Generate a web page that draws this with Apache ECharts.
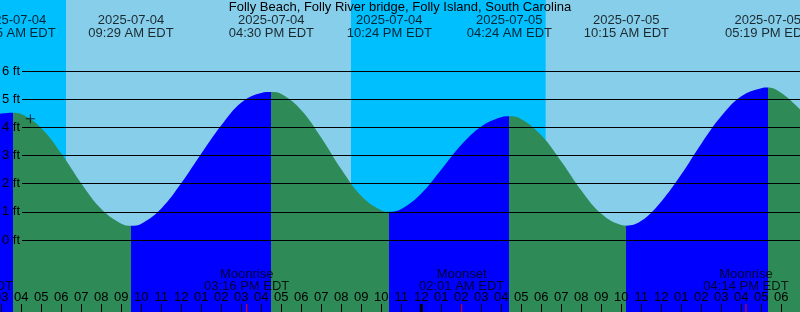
<!DOCTYPE html>
<html><head><meta charset="utf-8">
<script src="https://cdn.jsdelivr.net/npm/echarts@6/dist/echarts.min.js"></script>
<style>html,body{margin:0;padding:0;background:#87CEEB}#c{width:800px;height:312px}</style>
</head><body><div id="c"></div>
<script>
// ---- data (hours counted from 2025-07-04 00:00 EDT) ----
const chartTitle = 'Folly Beach, Folly River bridge, Folly Island, South Carolina';
const tideHours = [2.933, 3, 3.583, 4, 5, 6, 7, 8, 9, 9.483, 10, 11, 12, 13, 14, 15, 16, 16.5, 17, 18, 19, 20, 21, 22, 22.4,
  23, 24, 25, 26, 27, 28, 28.4, 29, 30, 31, 32, 33, 34, 34.25, 35, 36, 37, 38, 39, 40, 41, 41.317, 42, 42.933];
const tideFeet = [4.48, 4.49, 4.52, 4.47, 3.97, 3.07, 2.01, 1.10, 0.58, 0.51, 0.58, 1.12, 2.02, 3.07, 4.07, 4.88, 5.22, 5.25, 5.18, 4.61, 3.63, 2.51, 1.56, 1.05, 1.00,
  1.10, 1.65, 2.50, 3.38, 4.03, 4.36, 4.39, 4.29, 3.72, 2.79, 1.76, 0.93, 0.53, 0.51, 0.68, 1.37, 2.33, 3.42, 4.40, 5.10, 5.39, 5.41, 5.22, 4.64];
const eventHours = [3.583, 9.483, 16.5, 22.4, 28.4, 34.25, 41.317];
const eventType = ['H', 'L', 'H', 'L', 'H', 'L', 'H'];
const eventDate = ['2025-07-04', '2025-07-04', '2025-07-04', '2025-07-04', '2025-07-05', '2025-07-05', '2025-07-05'];
const eventTime = ['03:35 AM EDT', '09:29 AM EDT', '04:30 PM EDT', '10:24 PM EDT', '04:24 AM EDT', '10:15 AM EDT', '05:19 PM EDT'];
const nightStart = [-3.517, 20.483];
const nightEnd = [6.233, 30.217];
const moonHours = [1.45, 15.267, 26.017, 40.233];
const moonEvent = ['Moonset', 'Moonrise', 'Moonset', 'Moonrise'];
const moonTime = ['01:27 AM EDT', '03:16 PM EDT', '02:01 AM EDT', '04:14 PM EDT'];
const midnightHours = [24];
const nowHour = 4.45, nowFeet = 4.30;
const yTickLabels = [0, 1, 2, 3, 4, 5, 6];

// ---- axis extents ----
const xMin = 2.9333, xMax = 42.9333;
const yMin = -2.556, yMax = 8.52;
const FONT = 'Liberation Sans';
const RISE = '#0000FF', FALL = '#2E8B57';

const pieces = [];
pieces.push({ lt: eventHours[0], color: eventType[0] === 'H' ? RISE : FALL });
for (let i = 0; i < eventHours.length; i++) {
  const p = { gte: eventHours[i], color: eventType[i] === 'H' ? FALL : RISE };
  if (i < eventHours.length - 1) p.lt = eventHours[i + 1];
  pieces.push(p);
}

function tickSeries(hours, color, width) {
  return {
    type: 'custom', xAxisIndex: 0, yAxisIndex: 0, z: 6, clip: false,
    data: hours.map(h => [h]),
    renderItem: function (params, api) {
      const p = api.coord([api.value(0), yMin]);
      return { type: 'line', shape: { x1: p[0], y1: p[1], x2: p[0], y2: p[1] - 8 },
        style: { stroke: color, lineWidth: width } };
    }
  };
}

const chart = echarts.init(document.getElementById('c'));
chart.setOption({
  animation: false,
  backgroundColor: '#87CEEB',
  title: { text: chartTitle, left: 'center', top: 0, padding: 0,
    textStyle: { fontFamily: FONT, fontSize: 13, fontWeight: 'normal', color: '#000', lineHeight: 14 } },
  grid: [
    { left: 0, right: 0, top: 0, bottom: 0, show: true, backgroundColor: '#87CEEB', borderWidth: 0,
      containLabel: false, outerBoundsMode: 'none' },
    { left: 22, right: 0, top: 71, bottom: 72, show: false, containLabel: false, outerBoundsMode: 'none' }
  ],
  xAxis: [
    { type: 'value', gridIndex: 0, min: xMin, max: xMax, splitNumber: 40, minInterval: 1, maxInterval: 1,
      z: 5,
      axisLine: { show: false, onZero: false },
      axisTick: { show: true, inside: true, length: 8, lineStyle: { color: '#000', width: 1 } },
      axisLabel: { show: true, inside: true, margin: 8, interval: 0, showMinLabel: false, showMaxLabel: false,
        fontFamily: FONT, fontSize: 13, color: '#000',
        formatter: function (v) { const h = Math.round(v) % 12 || 12; return (h < 10 ? '0' : '') + h; } },
      splitLine: { show: false } },
    { type: 'value', gridIndex: 1, min: xMin, max: xMax, show: false, axisLine: { onZero: false } }
  ],
  yAxis: [
    { type: 'value', gridIndex: 0, min: yMin, max: yMax, show: false, splitLine: { show: false } },
    { type: 'value', gridIndex: 1, min: yTickLabels[0], max: yTickLabels[yTickLabels.length - 1], interval: 1, z: 10,
      axisLine: { show: false }, axisTick: { show: false },
      splitLine: { show: true, lineStyle: { color: '#000', width: 1 } },
      axisLabel: { show: true, margin: 20, align: 'left', fontFamily: FONT, fontSize: 13, color: '#000',
        formatter: '{value} ft' } }
  ],
  visualMap: { type: 'piecewise', show: false, dimension: 0, seriesIndex: 1, pieces: pieces },
  series: [
    { type: 'line', xAxisIndex: 0, yAxisIndex: 0, z: 1, data: [], silent: true,
      markArea: { silent: true, z: 1, itemStyle: { color: '#00BFFF' },
        data: nightStart.map((s, i) => [{ xAxis: s }, { xAxis: nightEnd[i] }]) } },
    { type: 'line', xAxisIndex: 0, yAxisIndex: 0, z: 2, showSymbol: false, smooth: 0.4,
      data: tideHours.map((h, i) => [h, tideFeet[i]]),
      lineStyle: { opacity: 0 }, areaStyle: { opacity: 1, origin: 'start' } },
    { type: 'scatter', xAxisIndex: 0, yAxisIndex: 0, z: 8, clip: false, symbolSize: 0.1,
      itemStyle: { color: 'transparent' },
      data: eventHours.map(h => [h, yMax]),
      label: { show: true, position: 'bottom', distance: 14.5, fontFamily: FONT, fontSize: 13, color: '#000', lineHeight: 12.5, align: 'center',
        formatter: p => eventDate[p.dataIndex] + '\n' + eventTime[p.dataIndex] } },
    { type: 'scatter', xAxisIndex: 0, yAxisIndex: 0, z: 8, clip: false, symbolSize: 0.1,
      itemStyle: { color: 'transparent' },
      data: moonHours.map(h => [h, yMin]),
      label: { show: true, position: 'top', distance: 20, fontFamily: FONT, fontSize: 13, color: '#000', lineHeight: 12, align: 'center',
        formatter: p => moonEvent[p.dataIndex] + '\n' + moonTime[p.dataIndex] } },
    { type: 'scatter', xAxisIndex: 0, yAxisIndex: 0, z: 8, clip: false,
      symbol: 'path://M4,0h1v9h-1zM0,4h9v1h-9z', symbolSize: [9, 9], itemStyle: { color: '#000' },
      data: [[nowHour, nowFeet]] },
    tickSeries(midnightHours, '#000', 3),
    tickSeries(moonHours, '#FF0000', 1)
  ]
});
</script></body></html>
